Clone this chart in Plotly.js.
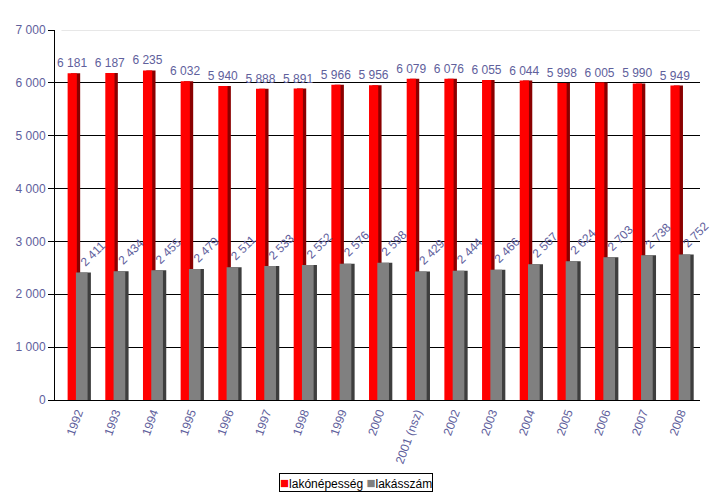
<!DOCTYPE html>
<html>
<head>
<meta charset="utf-8">
<script src="https://cdn.plot.ly/plotly-3.0.1.min.js"></script>
<style>html,body{margin:0;padding:0;background:#fff;}#chart{width:719px;height:499px;}</style>
</head>
<body>
<div id="chart"></div>
<script>
const years = ['1992','1993','1994','1995','1996','1997','1998','1999','2000','2001 (nsz)','2002','2003','2004','2005','2006','2007','2008'];
const population = [6181,6187,6235,6032,5940,5888,5891,5966,5956,6079,6076,6055,6044,5998,6005,5990,5949];
const dwellings = [2411,2434,2455,2479,2511,2533,2552,2576,2598,2429,2444,2466,2567,2624,2703,2738,2752];
const seriesNames = ['lakónépesség','lakásszám'];
const seriesColors = ['#ff0000','#808080'];

const labelColor = '#60609c';
const fmt = n => String(n).replace(/\B(?=(\d{3})+(?!\d))/g, ' ');
const font = 'Liberation Sans, Arial, sans-serif';

const redOff = -0.265, redW = 0.245, greyOff = -0.045, greyW = 0.31, depth = 0.088;

const traces = [
  {type:'bar', x:years, y:population, offset:redOff+depth, width:redW, marker:{color:'#8a0000'}, showlegend:false, hoverinfo:'skip'},
  {type:'bar', x:years, y:population, name:seriesNames[0], offset:redOff, width:redW, marker:{color:seriesColors[0]},
   text:population.map(fmt), textposition:'outside', constraintext:'none', cliponaxis:false,
   textfont:{family:font, size:12, color:labelColor}},
  {type:'bar', x:years, y:dwellings, offset:greyOff+depth, width:greyW, marker:{color:'#3e3e3e'}, showlegend:false, hoverinfo:'skip'},
  {type:'bar', x:years, y:dwellings, name:seriesNames[1], offset:greyOff, width:greyW, marker:{color:seriesColors[1]}}
];

const annotations = dwellings.map((v,i) => ({
  x: i, y: v, xref:'x', yref:'y', text: fmt(v), showarrow:false,
  textangle:-45, xanchor:'left', yanchor:'bottom', xshift:-3, yshift:1,
  font:{family:font, size:12, color:labelColor}
}));

annotations.push({
  xref:'paper', yref:'paper', x:0.467, y:-0.222, xanchor:'center', yanchor:'middle', showarrow:false,
  text:'<span style="color:' + seriesColors[0] + ';font-size:15px">■</span>' + seriesNames[0] + ' <span style="color:' + seriesColors[1] + ';font-size:15px">■</span>' + seriesNames[1],
  font:{family:font, size:12, color:'#000'}, bordercolor:'#000', borderwidth:1, borderpad:0, bgcolor:'#fff'
});

const layout = {
  width:719, height:499,
  margin:{l:55, r:19, t:30, b:99},
  paper_bgcolor:'#fff', plot_bgcolor:'#fff',
  barmode:'overlay',
  separators:', ',
  font:{family:font, size:12, color:labelColor},
  xaxis:{type:'category', range:[-0.6,16.52], showline:true, linecolor:'#000', linewidth:1,
    ticks:'', tickangle:-70, tickfont:{family:font, size:12, color:labelColor}, showgrid:false, zeroline:false, fixedrange:true},
  yaxis:{range:[0,7000], dtick:1000, showline:true, linecolor:'#000', linewidth:1, ticks:'outside', ticklen:6, tickcolor:'#000',
    gridcolor:'#000', gridwidth:1, separatethousands:true, zeroline:false,
    tickfont:{family:font, size:12, color:labelColor}, fixedrange:true},
  showlegend:false,
  shapes:[{type:'line', xref:'paper', yref:'y', x0:0.01, x1:1, y0:7000, y1:7000, line:{color:'#d0d0d0', width:1}, layer:'below'}],
  annotations: annotations
};

Plotly.newPlot('chart', traces, layout, {displayModeBar:false, staticPlot:true});
</script>
</body>
</html>
